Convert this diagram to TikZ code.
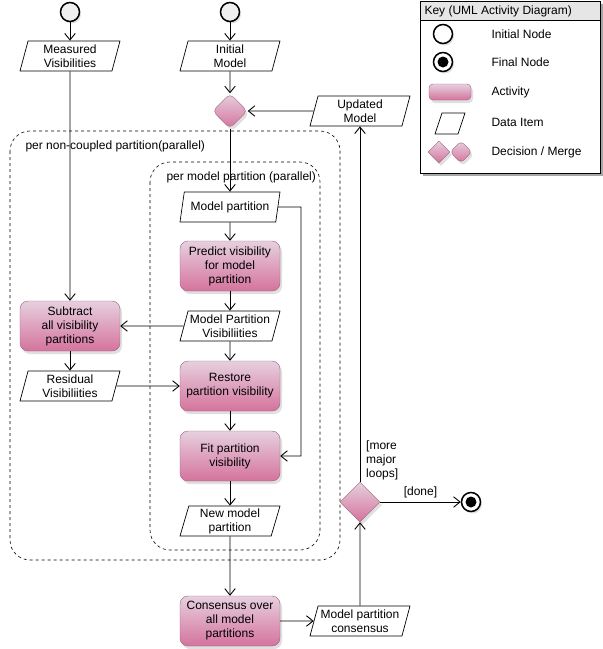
\documentclass[tikz,border=0pt]{standalone}
\usepackage{fontspec}
\setmainfont{Liberation Sans}
\usetikzlibrary{shapes.geometric,shadows,arrows.meta}
\definecolor{actTop}{HTML}{E6D0DE}
\definecolor{actBot}{HTML}{D5739D}
\definecolor{actLine}{HTML}{996185}
\definecolor{startFill}{HTML}{F0F0F0}
\definecolor{keyHead}{HTML}{E6E6E6}

\begin{document}
\begin{tikzpicture}[x=1pt,y=-1pt,
    font=\fontsize{12}{14}\selectfont,
    >={Straight Barb[length=6.5pt,width=10.5pt]},
    flow/.style={->,line width=0.9pt},
    activity/.style={draw=actLine,rounded corners=8,top color=actTop,bottom color=actBot,
      minimum width=100,minimum height=50,align=center,
      drop shadow={opacity=0.25,shadow xshift=2pt,shadow yshift=-3pt}},
    data/.style={draw,trapezium,trapezium left angle=72,trapezium right angle=108,
      trapezium stretches body,minimum width=100,minimum height=30,
      inner xsep=0pt,inner ysep=1pt,align=center,fill=white,line width=0.7pt},
    decision/.style={draw=actLine,diamond,top color=actTop,bottom color=actBot,
      minimum size=35,inner sep=0pt,
      drop shadow={opacity=0.25,shadow xshift=2pt,shadow yshift=-3pt}},
    start/.style={draw,circle,line width=1.5pt,fill=startFill,minimum size=19,inner sep=0pt,
      drop shadow={opacity=0.25,shadow xshift=1.5pt,shadow yshift=-2pt}},
    final/.style={draw,circle,line width=1.5pt,fill=white,minimum size=19,inner sep=0pt,
      path picture={\fill[black] (path picture bounding box.center) circle (5.5);},
      drop shadow={opacity=0.25,shadow xshift=1.5pt,shadow yshift=-2pt}},
    region/.style={dashed,rounded corners=20,line width=0.6pt}]
  \useasboundingbox (0,0) rectangle (603,649);

  % partition frames
  \draw[region] (10,131) rectangle (340,560);
  \draw[region] (150,162) rectangle (320,550);
  \node[anchor=west] (outerlbl) at (22,146) {per non-coupled partition(parallel)};
  \node[anchor=west] (innerlbl) at (163,177) {per model partition (parallel)};

  % start nodes and inputs
  \node[start] (start1) at (70,12) {};
  \node[start] (start2) at (230,12) {};
  \node[data] (meas) at (70,56) {Measured\\Visibilities};
  \node[data] (init) at (230,56) {Initial\\Model};
  \node[decision,rounded corners=5] (merge) at (230,111) {};
  \node[data] (upd) at (360,111) {Updated\\Model};

  % per partition
  \node[data] (mpart) at (230,207) {Model partition};
  \node[activity] (predict) at (230,266) {Predict visibility\\for model\\partition};
  \node[data] (mpvis) at (230,326) {Model Partition\\Visibiliities};
  \node[activity] (subtract) at (70,326) {Subtract\\all visibility\\partitions};
  \node[data] (resid) at (70,386) {Residual\\Visibiliities};
  \node[activity] (restore) at (230,386) {Restore\\partition visibility};
  \node[activity] (fit) at (230,456) {Fit partition\\visibility};
  \node[data] (newmp) at (230,521) {New model\\partition};

  % consensus and loop
  \node[activity] (consensus) at (230,621) {Consensus over\\all model\\partitions};
  \node[data] (mpcons) at (360,621) {Model partition\\consensus};
  \node[decision,minimum size=40] (loop) at (360,502) {};
  \node[final] (end) at (471,502) {};
  \coordinate (bend) at (301,207);

  % connectors
  \draw[flow] (start1) -- (meas);
  \draw[flow] (start2) -- (init);
  \draw[flow] (init) -- (merge);
  \draw[flow] (upd) -- (merge);
  \draw[flow] (merge) -- (mpart);
  \draw[flow] (meas) -- (subtract);
  \draw[flow] (mpart) -- (predict);
  \draw[flow] (mpart.east) -- (bend) |- (fit.east);
  \draw[flow] (predict) -- (mpvis);
  \draw[flow] (mpvis) -- (subtract);
  \draw[flow] (mpvis) -- (restore);
  \draw[flow] (subtract) -- (resid);
  \draw[flow] (resid) -- (restore);
  \draw[flow] (restore) -- (fit);
  \draw[flow] (fit) -- (newmp);
  \draw[flow] (newmp) -- (consensus);
  \draw[flow] (consensus) -- (mpcons);
  \draw[flow] (mpcons) -- (loop);
  \draw[flow] (loop) -- (upd);
  \draw[flow] (loop) -- node[above] (donelbl) {[done]} (end);
  \node[anchor=south west,align=left,inner sep=1pt] (morelbl) at (365,481) {[more\\major\\loops]};

  % key
  \fill[black!35] (423,4) rectangle (603,176);
  \draw[fill=white] (420,1) rectangle (600,173);
  \draw[fill=keyHead] (420,1) rectangle (600,20);
  \node[anchor=west] (keytitle) at (421,11) {Key (UML Activity Diagram)};
  \node[start,fill=white,drop shadow={opacity=0}] (kstart) at (443,34) {};
  \node[final,drop shadow={opacity=0}] (kfinal) at (443,62) {};
  \node[activity,minimum width=42,minimum height=16,rounded corners=4,drop shadow={opacity=0}] (kact) at (450,92) {};
  \draw[line width=0.7pt,fill=white] (435,134) -- (442,113) -- (465,113) -- (458,134) -- cycle;
  \node[decision,minimum size=22,drop shadow={opacity=0}] (kdec) at (439,152) {};
  \node[decision,minimum size=22,rounded corners=4,drop shadow={opacity=0}] (kmerge) at (461,152) {};
  \node[anchor=west] (kl1) at (488,34) {Initial Node};
  \node[anchor=west] (kl2) at (488,62) {Final Node};
  \node[anchor=west] (kl3) at (488,92) {Activity};
  \node[anchor=west] (kl4) at (488,122) {Data Item};
  \node[anchor=west] (kl5) at (488,152) {Decision / Merge};
\end{tikzpicture}
\end{document}
